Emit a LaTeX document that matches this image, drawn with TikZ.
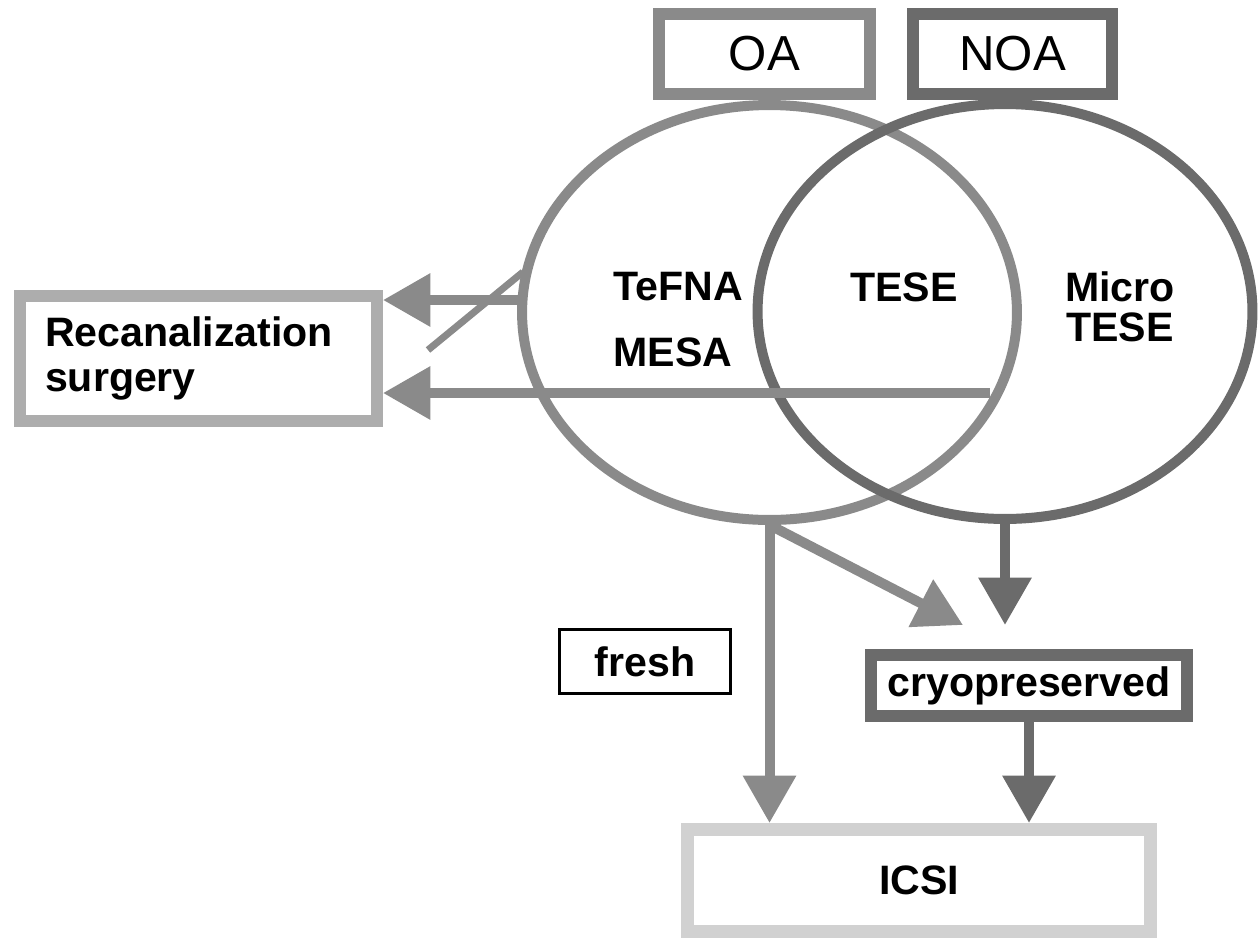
\documentclass[tikz,border=0pt]{standalone}
\usepackage{fontspec}
\setmainfont{Liberation Sans}
\usetikzlibrary{positioning,calc,shapes.geometric,arrows.meta}
\definecolor{oagray}{gray}{0.54}
\definecolor{noagray}{gray}{0.42}
\definecolor{recgray}{gray}{0.68}
\definecolor{icsigray}{gray}{0.82}
\tikzset{>={Triangle[length=0.95cm,width=1.02cm]}}
\tikzset{
  headbox/.style={draw,line width=0.24cm,minimum height=1.6cm,inner sep=0pt,
    font=\fontsize{28}{30}\selectfont},
  txt/.style={inner sep=0pt,font=\bfseries\fontsize{23.4}{25.5}\selectfont},
  venn/.style={ellipse,draw,line width=0.2cm,minimum width=9.9cm,
    minimum height=8.3cm,inner sep=0pt},
  flow/.style={->,line width=0.2cm},
}

\begin{document}
\begin{tikzpicture}[x=0.02cm,y=-0.02cm]
% Size 1260 by 940
\useasboundingbox (0,0) rectangle (1260,940);

% Ellipses for OA and NOA
\node[venn,draw=oagray] (Lell) at (769.5,312.5) {};
\node[venn,draw=noagray] (Rell) at (1005,311.5) {};

% Boxes on top
\node[headbox,draw=oagray,minimum width=4.22cm] (OA) at (764.5,54) {OA};
\node[headbox,draw=noagray,minimum width=3.98cm] (NOA) at (1012.5,54) {NOA};

% Techniques inside the ellipses
\node[txt] (TeFNA) at (678,287) {TeFNA};
\node[txt] (MESA) at (673,352) {MESA};
\node[txt] (TESE) at (904,287) {TESE};
\node[txt,align=center,font=\bfseries\fontsize{23.4}{22.7}\selectfont]
  (Micro) at (1120,307) {Micro\\TESE};

% Other boxes
\node[txt,draw=recgray,line width=0.24cm,minimum width=7.14cm,minimum height=2.5cm,
  text width=6.14cm,align=left,inner xsep=0.5cm] (Rec) at (198.5,358.5)
  {Recanalization\\surgery};
\node[txt,draw,line width=0.06cm,minimum width=3.42cm,minimum height=1.28cm]
  (Fresh) at (645,661.5) {fresh};
\node[txt,draw=noagray,line width=0.24cm,minimum width=6.32cm,minimum height=1.22cm]
  (Cryo) at (1029,685.5) {cryopreserved};
\node[txt,draw=icsigray,line width=0.26cm,minimum width=9.26cm,minimum height=2.04cm]
  (ICSI) at (919,880.5) {ICSI};

% Arrows to recanalization surgery
\coordinate (U) at (522,300);
\coordinate (W) at (990,393);
\draw[flow,oagray] (U) -- (U -| Rec.east);
\draw[flow,oagray] (W) -- (W -| Rec.east);
\coordinate (S) at (428,350);
\draw[oagray,line width=0.14cm] (S) -- (523,272);

% Arrows down to cryopreserved and ICSI
\coordinate (T) at (963,625);
\draw[flow,oagray] (Lell.south) -- (Lell.south |- ICSI.north);
\draw[flow,oagray] (Lell.south) -- (T);
\draw[flow,noagray] (Rell.south) -- (Rell.south |- T);
\draw[flow,noagray] (Cryo.south) -- (Cryo.south |- ICSI.north);
\end{tikzpicture}
\end{document}
